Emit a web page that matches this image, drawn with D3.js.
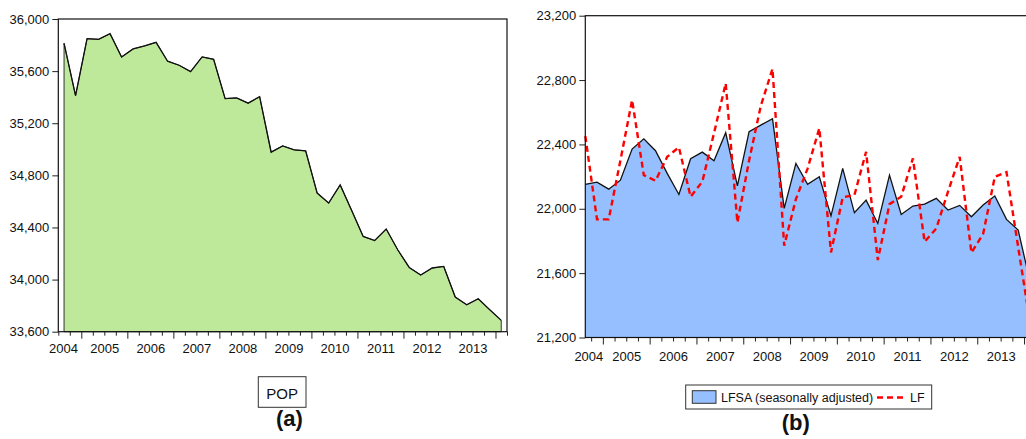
<!DOCTYPE html>
<html>
<head>
<meta charset="utf-8">
<script src="https://cdn.jsdelivr.net/npm/d3@7"></script>
<style>
  body { margin: 0; background: #fff; }
  text { font-family: Arial, "Liberation Sans", sans-serif; fill: #111; }
</style>
</head>
<body>
<div class="root"></div>
<script>
// quarterly observations, 2004Q3 .. 2014Q1
const periods = [
  '2004Q3', '2004Q4',
  '2005Q1', '2005Q2', '2005Q3', '2005Q4',
  '2006Q1', '2006Q2', '2006Q3', '2006Q4',
  '2007Q1', '2007Q2', '2007Q3', '2007Q4',
  '2008Q1', '2008Q2', '2008Q3', '2008Q4',
  '2009Q1', '2009Q2', '2009Q3', '2009Q4',
  '2010Q1', '2010Q2', '2010Q3', '2010Q4',
  '2011Q1', '2011Q2', '2011Q3', '2011Q4',
  '2012Q1', '2012Q2', '2012Q3', '2012Q4',
  '2013Q1', '2013Q2', '2013Q3', '2013Q4',
  '2014Q1'
];

const pop = [
  35813, 35412, 35849, 35844, 35887, 35709, 35770, 35793, 35821, 35676,
  35645, 35596, 35709, 35691, 35389, 35394, 35354, 35404, 34978, 35026,
  34996, 34988, 34664, 34587, 34727, 34530, 34331, 34300, 34388, 34229,
  34093, 34035, 34089, 34101, 33866, 33807, 33853, 33769, 33687
];

const lfsa = [
  22152, 22166, 22122, 22178, 22371, 22435, 22361, 22220, 22089, 22311,
  22352, 22298, 22473, 22143, 22479, 22520, 22560, 22002, 22282, 22152,
  22199, 21956, 22251, 21975, 22054, 21909, 22209, 21965, 22017, 22029,
  22065, 21992, 22021, 21950, 22023, 22079, 21934, 21868, 21550
];

const lf = [
  22452, 21934, 21934, 22300, 22676, 22209, 22174, 22323, 22382, 22075,
  22168, 22470, 22780, 21915, 22300, 22640, 22870, 21770, 22060, 22250,
  22500, 21729, 22071, 22085, 22354, 21681, 22029, 22075, 22313, 21795,
  21878, 22106, 22323, 21727, 21843, 22199, 22228, 21760, 21300
];

const years = [2004, 2005, 2006, 2007, 2008, 2009, 2010, 2011, 2012, 2013];
const popTicks = [33600, 34000, 34400, 34800, 35200, 35600, 36000];
const lfTicks = [21200, 21600, 22000, 22400, 22800, 23200];

// observation sits in the middle of its quarter
const toTime = p => +p.slice(0, 4) + (+p.slice(5) - 1) / 4 + 0.125;
const times = periods.map(toTime);

const svg = d3.select('.root')
  .append('svg')
  .attr('width', 1026)
  .attr('height', 439);

const fmt = d3.format(',');

const drawFrame = (g, x, y, cfg) => {
  const [x0, x1] = x.range();
  const [y0, y1] = y.range();

  // y axis
  const ya = g.append('g')
    .attr('transform', `translate(${x0},0)`)
    .call(d3.axisLeft(y).tickValues(cfg.yTicks).tickSize(6).tickPadding(3).tickFormat(fmt));
  ya.select('.domain').remove();
  ya.selectAll('text').style('font-size', '13px').attr('fill', '#111');
  ya.selectAll('line').attr('stroke', '#222');

  // quarter ticks on x axis, longer at year boundaries
  const qTicks = d3.range(Math.ceil(x.domain()[0] * 4), Math.floor(x.domain()[1] * 4) + 1).map(d => d / 4);
  const xa = g.append('g')
    .attr('transform', `translate(0,${y0})`)
    .call(d3.axisBottom(x).tickValues(qTicks).tickSize(4).tickFormat(''));
  xa.select('.domain').remove();
  xa.selectAll('line')
    .attr('stroke', '#222')
    .attr('y2', d => Number.isInteger(d) ? 7 : 4);

  // year labels
  const labelAt = years.map((yr, i) => i === 0 ? cfg.firstLabel : yr + 0.5);
  const xl = g.append('g')
    .attr('transform', `translate(0,${y0})`)
    .call(d3.axisBottom(x).tickValues(labelAt).tickSize(0).tickPadding(cfg.labelPad)
      .tickFormat((d, i) => years[i]));
  xl.select('.domain').remove();
  xl.selectAll('text').style('font-size', '13px').attr('fill', '#111');

  // plot frame
  g.append('rect')
    .attr('x', x0).attr('y', y1)
    .attr('width', x1 - x0).attr('height', y0 - y1)
    .attr('fill', 'none')
    .attr('stroke', '#111')
    .attr('stroke-width', 1.2);
};

// ---- (a) POP ----
const ga = svg.append('g');
const xa = d3.scaleLinear().domain([2004.5, 2014.25]).range([58.3, 507]);
const ya = d3.scaleLinear().domain([33600, 36000]).range([331.7, 19]);

ga.append('path')
  .datum(pop)
  .attr('fill', '#bfe99a')
  .attr('stroke', '#333')
  .attr('stroke-width', 1)
  .attr('d', d3.area()
    .x((d, i) => xa(times[i]))
    .y0(ya(33600))
    .y1(d => ya(d)));

ga.append('path')
  .datum(pop)
  .attr('fill', 'none')
  .attr('stroke', '#111')
  .attr('stroke-width', 1.3)
  .attr('d', d3.line()
    .x((d, i) => xa(times[i]))
    .y(d => ya(d)));

drawFrame(ga, xa, ya, { yTicks: popTicks, firstLabel: 2004.6, labelPad: 12 });

ga.append('rect')
  .attr('x', 258.3).attr('y', 376.7)
  .attr('width', 47.7).attr('height', 30.6)
  .attr('fill', '#fff').attr('stroke', '#333');
ga.append('text')
  .attr('x', 282.2).attr('y', 398.5)
  .attr('text-anchor', 'middle')
  .style('font-size', '15px')
  .text('POP');
ga.append('text')
  .attr('x', 289.5).attr('y', 426)
  .attr('text-anchor', 'middle')
  .style('font-size', '22px')
  .style('font-weight', 'bold')
  .text('(a)');

// ---- (b) LFSA / LF ----
const gb = svg.append('g');
const xb = d3.scaleLinear().domain([2004.625, 2014.25]).range([585.3, 585.3 + 9.625 * 46.8]);
const yb = d3.scaleLinear().domain([21200, 23200]).range([337.5, 15.7]);

gb.append('path')
  .datum(lfsa)
  .attr('fill', '#96bfff')
  .attr('d', d3.area()
    .x((d, i) => xb(times[i]))
    .y0(yb(21200))
    .y1(d => yb(d)));

gb.append('path')
  .datum(lfsa)
  .attr('fill', 'none')
  .attr('stroke', '#111')
  .attr('stroke-width', 1.3)
  .attr('d', d3.line()
    .x((d, i) => xb(times[i]))
    .y(d => yb(d)));

gb.append('path')
  .datum(lf)
  .attr('fill', 'none')
  .attr('stroke', '#ff0000')
  .attr('stroke-width', 2.4)
  .attr('stroke-dasharray', '6,4')
  .attr('d', d3.line()
    .x((d, i) => xb(times[i]))
    .y(d => yb(d)));

drawFrame(gb, xb, yb, { yTicks: lfTicks, firstLabel: 2004.69, labelPad: 14 });

const legB = gb.append('g');
legB.append('rect')
  .attr('x', 685.7).attr('y', 385)
  .attr('width', 246).attr('height', 24)
  .attr('fill', '#fff').attr('stroke', '#333');
legB.append('rect')
  .attr('x', 692.3).attr('y', 390.7)
  .attr('width', 23.7).attr('height', 12.6)
  .attr('fill', '#96bfff').attr('stroke', '#333');
legB.append('text')
  .attr('x', 721).attr('y', 401.5)
  .style('font-size', '12.5px')
  .text('LFSA (seasonally adjusted)');
legB.append('line')
  .attr('x1', 877).attr('x2', 903)
  .attr('y1', 397.5).attr('y2', 397.5)
  .attr('stroke', '#ff0000')
  .attr('stroke-width', 2.4)
  .attr('stroke-dasharray', '6,4');
legB.append('text')
  .attr('x', 910).attr('y', 401.5)
  .style('font-size', '12.5px')
  .text('LF');

gb.append('text')
  .attr('x', 795.8).attr('y', 430)
  .attr('text-anchor', 'middle')
  .style('font-size', '22px')
  .style('font-weight', 'bold')
  .text('(b)');
</script>
</body>
</html>
